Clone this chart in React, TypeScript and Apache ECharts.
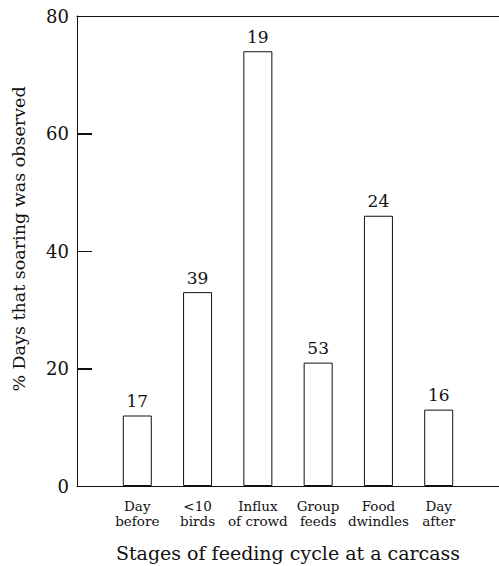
import React, { useEffect, useRef } from "react";
import * as echarts from "echarts";

const categories = ["", "Day\nbefore", "<10\nbirds", "Influx\nof crowd", "Group\nfeeds", "Food\ndwindles", "Day\nafter", ""];
const values = [null, 12, 33, 74, 21, 46, 13, null];
const sampleSizes = ["", "17", "39", "19", "53", "24", "16", ""];
const yTicks = { min: 0, max: 80, interval: 20 };
const yTickValues = [0, 20, 40, 60, 80];

const FONT = "'DejaVu Serif', serif";
const INK = "#111";

export default function App() {
  const ref = useRef<HTMLDivElement>(null);
  useEffect(() => {
    if (!ref.current) return;
    const chart = echarts.init(ref.current, undefined, { renderer: "svg" });
    chart.setOption({
      animation: false,
      backgroundColor: "#fff",
      textStyle: { fontFamily: FONT, color: INK },
      grid: { left: 77, right: 0, top: 16, bottom: 80, outerBoundsMode: "none", containLabel: false },
      xAxis: [
        {
          type: "category",
          data: categories,
          boundaryGap: false,
          axisLine: { lineStyle: { color: INK, width: 1 } },
          axisTick: { show: false },
          axisLabel: {
            interval: 0,
            fontFamily: FONT,
            fontSize: 13.5,
            lineHeight: 15,
            color: INK,
            margin: 12,
          },
          name: "Stages of feeding cycle at a carcass",
          nameLocation: "middle",
          nameGap: 57,
          nameTextStyle: { fontFamily: FONT, fontSize: 19, color: INK },
        },
        {
          type: "category",
          data: categories,
          position: "top",
          boundaryGap: false,
          axisLine: { show: true, lineStyle: { color: INK, width: 1 } },
          axisTick: { show: false },
          axisLabel: { show: false },
        },
      ],
      yAxis: {
        type: "value",
        min: yTicks.min,
        max: yTicks.max,
        interval: yTicks.interval,
        axisLine: { show: true, lineStyle: { color: INK, width: 1 } },
        axisTick: { show: true, inside: true, length: 15, lineStyle: { color: INK, width: 1 } },
        splitLine: { show: false },
        axisLabel: { fontFamily: FONT, fontSize: 18, color: INK, margin: 8 },
      },
      graphic: [
        {
          type: "text",
          x: 19,
          y: 239,
          rotation: Math.PI / 2,
          style: {
            text: "% Days that soaring was observed",
            fontFamily: FONT,
            fontSize: 17.5,
            fill: INK,
            align: "center",
            verticalAlign: "middle",
          },
        },
      ],
      series: [
        {
          type: "bar",
          data: values,
          barWidth: 29,
          itemStyle: { color: "#fff", borderColor: INK, borderWidth: 1 },
          label: {
            show: true,
            position: "top",
            distance: 6,
            fontFamily: FONT,
            fontSize: 17,
            color: INK,
            formatter: (p: any) => sampleSizes[p.dataIndex],
          },
        },
        {
          type: "custom",
          silent: true,
          clip: false,
          z: 5,
          data: yTickValues.map((v) => [0, v]),
          renderItem: (params: any, api: any) => {
            const p = api.coord([0, api.value(1)]);
            const y = Math.round(p[1]) + 0.5;
            return {
              type: "line",
              shape: { x1: p[0], y1: y, x2: p[0] + 15, y2: y },
              style: { stroke: INK, lineWidth: 1 },
            };
          },
        },
      ],
    });
    return () => chart.dispose();
  }, []);
  return (
    <div
      ref={ref}
      style={{ position: "fixed", left: 0, top: 0, width: 499, height: 566 }}
    />
  );
}
